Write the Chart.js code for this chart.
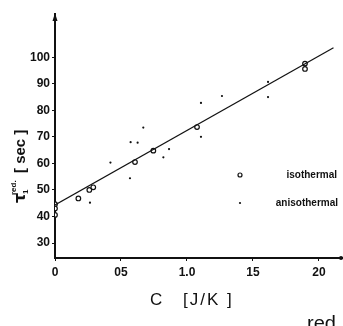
<!DOCTYPE html>
<html>
<head>
<meta charset="utf-8">
<script src="https://cdn.jsdelivr.net/npm/chart.js@4/dist/chart.umd.min.js"></script>
<style>
html,body{margin:0;padding:0;background:#fff;}
#wrap{position:relative;width:343px;height:326px;}
</style>
</head>
<body>
<div id="wrap"><canvas id="c" width="343" height="326"></canvas></div>
<script>
// ---- data ----
const isoX = [0, 0, 0, 0.177, 0.26, 0.29, 0.606, 0.745, 1.076, 1.894, 1.894];
const isoY = [44.6, 43.0, 40.6, 46.8, 50.0, 51.0, 60.5, 64.8, 73.7, 97.6, 95.6];
const anisoX = [0.265, 0.42, 0.568, 0.573, 0.626, 0.669, 0.821, 0.864, 1.106, 1.106, 1.265, 1.614, 1.614];
const anisoY = [45.2, 60.3, 54.4, 68.0, 67.8, 73.5, 62.3, 65.4, 82.8, 70.0, 85.4, 90.7, 85.0];
const fitX = [0, 2.11];
const fitY = [44.3, 103.6];
const xTickValues = [0, 0.5, 1.0, 1.5, 2.0];
const xTickLabels = ["0", "05", "1.0", "15", "20"];
const yTickValues = [30, 40, 50, 60, 70, 80, 90, 100];
const legendLabels = ["isothermal", "anisothermal"];
const xTitle = ["C", "[J/K ]"];

const toPts = (xs, ys) => xs.map((x, i) => ({x: x, y: ys[i]}));

const decor = {
  id: 'decor',
  afterDraw(chart) {
    const ctx = chart.ctx;
    const a = chart.chartArea;
    ctx.save();
    ctx.fillStyle = '#111';
    ctx.strokeStyle = '#111';
    // y-axis arrow head
    ctx.beginPath();
    ctx.moveTo(a.left, a.top - 1);
    ctx.lineTo(a.left - 2.5, a.top + 7);
    ctx.lineTo(a.left + 2.5, a.top + 7);
    ctx.closePath();
    ctx.fill();
    // x-axis end dot
    ctx.beginPath();
    ctx.arc(a.right - 2, a.bottom, 2, 0, Math.PI * 2);
    ctx.fill();

    // y-axis title
    ctx.save();
    ctx.translate(25, 203);
    ctx.rotate(-Math.PI / 2);
    ctx.textBaseline = 'alphabetic';
    ctx.textAlign = 'left';
    ctx.font = 'bold 16px "DejaVu Sans", sans-serif';
    ctx.fillText('τ', 0, 0);
    ctx.font = 'bold 8px "Liberation Sans", sans-serif';
    ctx.fillText('1', 9, 3);
    ctx.fillText('red.', 8, -9);
    ctx.font = 'bold 15px "Liberation Sans", sans-serif';
    ctx.fillText('[ sec ]', 30, 0);
    ctx.restore();

    // x-axis title
    ctx.textAlign = 'left';
    ctx.textBaseline = 'alphabetic';
    ctx.font = '17px "Liberation Sans", sans-serif';
    ctx.fillText(xTitle[0], 150, 305);
    ctx.letterSpacing = '2px';
    ctx.fillText(xTitle[1], 183, 305);
    ctx.letterSpacing = '0px';

    // legend
    ctx.font = 'bold 10px "Liberation Sans Narrow", "Liberation Sans", sans-serif';
    ctx.textBaseline = 'middle';
    ctx.textAlign = 'right';
    ctx.lineWidth = 1.2;
    ctx.beginPath();
    ctx.arc(240, 175, 2, 0, Math.PI * 2);
    ctx.stroke();
    ctx.fillText(legendLabels[0], 337, 175);
    ctx.beginPath();
    ctx.arc(240, 203, 1.1, 0, Math.PI * 2);
    ctx.fill();
    ctx.fillText(legendLabels[1], 338, 203);

    // fragment of next line of text at bottom
    ctx.textAlign = 'left';
    ctx.textBaseline = 'alphabetic';
    ctx.font = '20px "Liberation Sans", sans-serif';
    ctx.fillText('red', 307, 330);
    ctx.restore();
  }
};

new Chart(document.getElementById('c'), {
  type: 'scatter',
  data: {
    datasets: [
      {
        label: 'fit',
        data: toPts(fitX, fitY),
        showLine: true,
        borderColor: '#111',
        borderWidth: 1.2,
        pointRadius: 0,
        fill: false
      },
      {
        label: legendLabels[0],
        data: toPts(isoX, isoY),
        pointStyle: 'circle',
        pointRadius: 2.3,
        pointBorderWidth: 1.2,
        pointBorderColor: '#111',
        pointBackgroundColor: '#fff'
      },
      {
        label: legendLabels[1],
        data: toPts(anisoX, anisoY),
        pointStyle: 'circle',
        pointRadius: 1.1,
        pointBorderWidth: 0,
        pointBackgroundColor: '#111',
        pointBorderColor: '#111'
      }
    ]
  },
  options: {
    responsive: false,
    animation: false,
    devicePixelRatio: 1,
    layout: { padding: { top: 14, right: 0, bottom: 0, left: 0 }, autoPadding: false },
    plugins: { legend: { display: false }, tooltip: { enabled: false }, title: { display: false } },
    scales: {
      x: {
        type: 'linear',
        min: 0,
        max: 2.182,
        afterFit: s => { s.height = 68; },
        afterBuildTicks: s => { s.ticks = xTickValues.map(v => ({value: v})); },
        grid: { drawOnChartArea: false, drawTicks: true, tickLength: 3, color: '#111', tickWidth: 1 },
        border: { display: true, color: '#111', width: 2 },
        ticks: {
          color: '#111',
          padding: 4,
          maxRotation: 0,
          autoSkip: false,
          font: { family: '"Liberation Sans Narrow", "Liberation Sans", sans-serif', size: 12, weight: 'bold' },
          callback: (v) => { const i = xTickValues.indexOf(v); return i >= 0 ? xTickLabels[i] : ''; }
        },
        title: { display: false }
      },
      y: {
        type: 'linear',
        min: 24.35,
        max: 116.3,
        afterFit: s => { s.width = 55; },
        afterBuildTicks: s => { s.ticks = yTickValues.map(v => ({value: v})); },
        grid: { drawOnChartArea: false, drawTicks: true, tickLength: 3, color: '#111', tickWidth: 1 },
        border: { display: true, color: '#111', width: 2 },
        ticks: {
          color: '#111',
          padding: 2,
          autoSkip: false,
          font: { family: '"Liberation Sans", sans-serif', size: 12, weight: 'bold' }
        }
      }
    }
  },
  plugins: [decor]
});
</script>
</body>
</html>
